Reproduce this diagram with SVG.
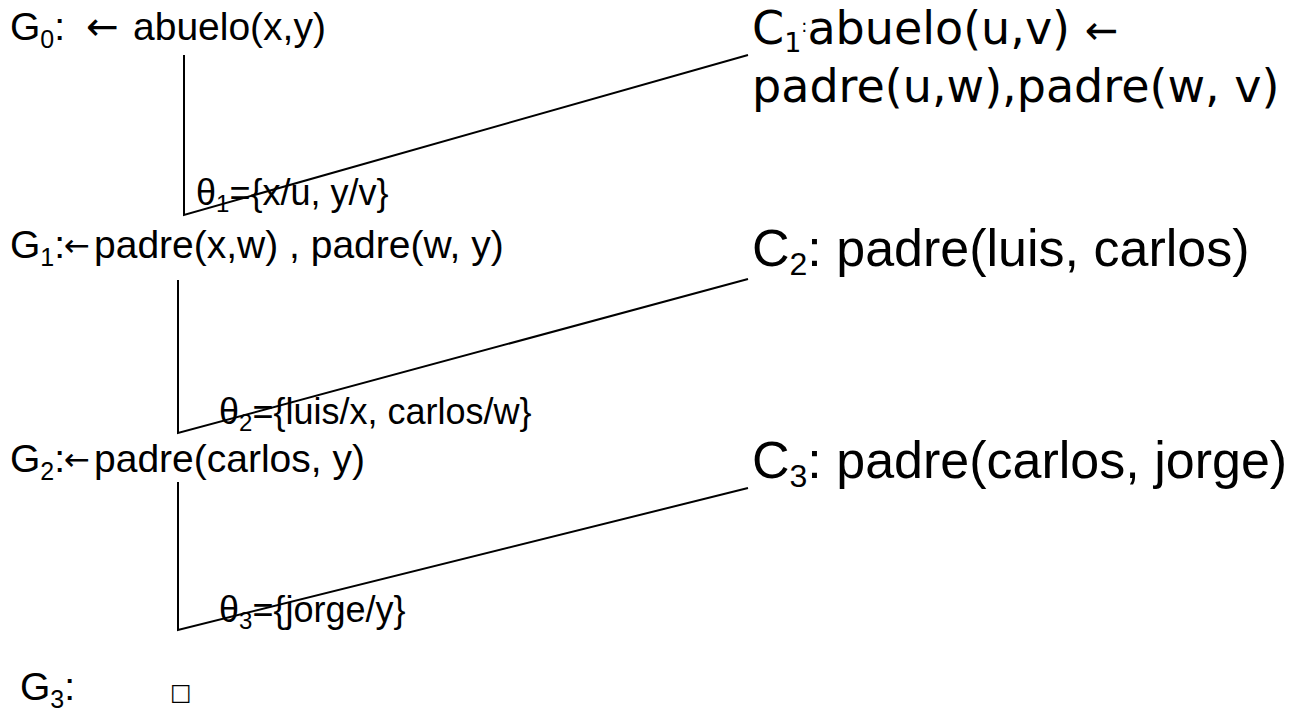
<svg xmlns="http://www.w3.org/2000/svg" width="1297" height="717" viewBox="0 0 1297 717">
<style>
.a{font-family:"Liberation Sans",Arial,sans-serif;font-size:39px;fill:#000}
.r{font-family:"Liberation Sans",Arial,sans-serif;font-size:52px;fill:#000}
.v{font-family:"DejaVu Sans",Verdana,sans-serif;font-size:46px;fill:#000}
.t{font-family:"Liberation Sans",Arial,sans-serif;font-size:36px;fill:#000}
.ar{font-family:"DejaVu Sans",sans-serif}
.ln{stroke:#000;stroke-width:2;fill:none}
</style>
<rect width="1297" height="717" fill="#fff"/>
<g id="connectors">
<polyline class="ln" points="184,55 184,215 748,55"/>
<polyline class="ln" points="178,280 178,433 748,279"/>
<polyline class="ln" points="178,482 178,630 748,488"/>
</g>
<g id="G0"><text class="a" x="10" y="40">G<tspan style="font-size:25px" dy="8">0</tspan><tspan dy="-8">:</tspan><tspan class="ar" x="86">←</tspan><tspan x="133">abuelo(x,y)</tspan></text></g>
<g id="C1"><text class="v" x="752" y="44">C<tspan style="font-size:27px" dy="8">1</tspan><tspan style="font-size:18px" dy="-20">:</tspan><tspan dy="12">abuelo(u,v) </tspan><tspan style="font-size:40px">←</tspan></text>
<text class="v" x="752" y="102">padre(u,w),padre(w, v)</text></g>
<g id="T1"><text class="t" x="196" y="205">θ<tspan style="font-size:24px" dy="7">1</tspan><tspan dy="-7">={x/u, y/v}</tspan></text></g>
<g id="G1"><text class="a" x="10" y="258">G<tspan style="font-size:25px" dy="8">1</tspan><tspan dy="-8">:</tspan><tspan class="ar" style="font-size:31px" x="64" dy="-2">←</tspan><tspan x="94" dy="2">padre(x,w) , padre(w, y)</tspan></text></g>
<g id="C2"><text class="r" x="752" y="266">C<tspan style="font-size:32px" dy="9">2</tspan><tspan dy="-9">: padre(luis, carlos)</tspan></text></g>
<g id="T2"><text class="t" x="219" y="424">θ<tspan style="font-size:24px" dy="7">2</tspan><tspan dy="-7">={luis/x, carlos/w}</tspan></text></g>
<g id="G2"><text class="a" x="10" y="472">G<tspan style="font-size:25px" dy="8">2</tspan><tspan dy="-8">:</tspan><tspan class="ar" style="font-size:31px" x="64" dy="-2">←</tspan><tspan x="94" dy="2">padre(carlos, y)</tspan></text></g>
<g id="C3"><text class="r" x="752" y="478">C<tspan style="font-size:32px" dy="9">3</tspan><tspan dy="-9">: padre(carlos, jorge)</tspan></text></g>
<g id="T3"><text class="t" x="219" y="622">θ<tspan style="font-size:24px" dy="7">3</tspan><tspan dy="-7">={jorge/y}</tspan></text></g>
<g id="G3"><text class="a" x="20" y="700">G<tspan style="font-size:25px" dy="8">3</tspan><tspan dy="-8">:</tspan></text>
<text class="ar" x="170" y="700" style="font-size:23px">□</text></g>
</svg>
